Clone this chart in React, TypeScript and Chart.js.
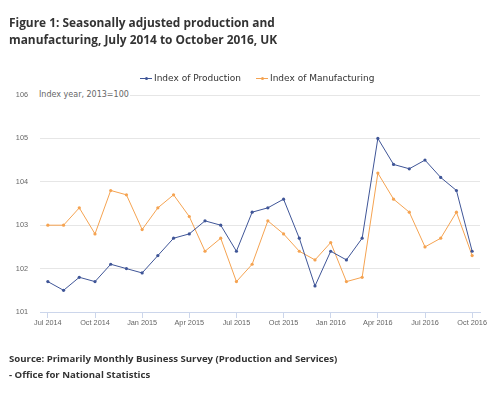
import React, { useEffect, useRef } from "react";
import { Chart, registerables } from "chart.js";

Chart.register(...registerables);

const months = [
  "Jul 2014", "Aug 2014", "Sep 2014", "Oct 2014", "Nov 2014", "Dec 2014",
  "Jan 2015", "Feb 2015", "Mar 2015", "Apr 2015", "May 2015", "Jun 2015",
  "Jul 2015", "Aug 2015", "Sep 2015", "Oct 2015", "Nov 2015", "Dec 2015",
  "Jan 2016", "Feb 2016", "Mar 2016", "Apr 2016", "May 2016", "Jun 2016",
  "Jul 2016", "Aug 2016", "Sep 2016", "Oct 2016",
];

const production = [
  101.7, 101.5, 101.8, 101.7, 102.1, 102.0,
  101.9, 102.3, 102.7, 102.8, 103.1, 103.0,
  102.4, 103.3, 103.4, 103.6, 102.7, 101.6,
  102.4, 102.2, 102.7, 105.0, 104.4, 104.3,
  104.5, 104.1, 103.8, 102.4,
];

const manufacturing = [
  103.0, 103.0, 103.4, 102.8, 103.8, 103.7,
  102.9, 103.4, 103.7, 103.2, 102.4, 102.7,
  101.7, 102.1, 103.1, 102.8, 102.4, 102.2,
  102.6, 101.7, 101.8, 104.2, 103.6, 103.3,
  102.5, 102.7, 103.3, 102.3,
];

const xTickLabels = [
  "Jul 2014", "Oct 2014", "Jan 2015", "Apr 2015", "Jul 2015",
  "Oct 2015", "Jan 2016", "Apr 2016", "Jul 2016", "Oct 2016",
];

const yMin = 101;
const yMax = 106;

const seriesNames = ["Index of Production", "Index of Manufacturing"];
const blue = "#3f5597";
const orange = "#f5a351";

export default function App() {
  const ref = useRef<HTMLCanvasElement | null>(null);

  useEffect(() => {
    if (!ref.current) return;
    const tickFont = { family: "'Liberation Sans', Arial, sans-serif", size: 7.3 };
    const chart = new Chart(ref.current, {
      type: "line",
      data: {
        labels: months,
        datasets: [
          {
            label: seriesNames[0],
            data: production,
            borderColor: blue,
            backgroundColor: blue,
            borderWidth: 1,
            pointRadius: 1.6,
            pointBorderWidth: 0,
            tension: 0,
          },
          {
            label: seriesNames[1],
            data: manufacturing,
            borderColor: orange,
            backgroundColor: orange,
            borderWidth: 1,
            pointRadius: 1.6,
            pointBorderWidth: 0,
            tension: 0,
          },
        ],
      },
      options: {
        responsive: false,
        animation: false,
        devicePixelRatio: 1,
        layout: { padding: { top: 95, right: 20, bottom: 40, left: 0 } },
        plugins: {
          legend: { display: false },
          title: { display: false },
          tooltip: { enabled: false },
        },
        scales: {
          x: {
            type: "category",
            offset: true,
            afterFit: (s: any) => {
              s.height = 41;
              s.paddingLeft = 0;
              s.paddingRight = 0;
            },
            border: { display: true, color: "#ccd6eb", width: 1 },
            grid: {
              display: true,
              drawOnChartArea: false,
              drawTicks: true,
              tickLength: 6,
              offset: false,
              color: (ctx: any) =>
                ctx.tick && xTickLabels.includes(months[ctx.index]) ? "#ccd6eb" : "rgba(0,0,0,0)",
            },
            ticks: {
              autoSkip: false,
              maxRotation: 0,
              minRotation: 0,
              padding: 1,
              color: "#666666",
              font: tickFont,
              callback: (_v: any, i: number) =>
                xTickLabels.includes(months[i]) ? months[i] : "",
            },
          },
          y: {
            min: yMin,
            max: yMax,
            afterFit: (s: any) => {
              s.width = 40;
              s.paddingTop = 0;
              s.paddingBottom = 0;
            },
            border: { display: false },
            grid: { color: "#e6e6e6", drawTicks: false, lineWidth: 1 },
            ticks: {
              stepSize: 1,
              padding: 12,
              color: "#666666",
              font: tickFont,
            },
          },
        },
      },
    });
    return () => chart.destroy();
  }, []);

  const legendItem = (color: string, name: string, left: number) => (
    <div
      style={{
        position: "absolute",
        left,
        top: 72,
        height: 12,
        display: "flex",
        alignItems: "center",
        whiteSpace: "nowrap",
      }}
    >
      <span style={{ position: "relative", width: 12, height: 12, display: "inline-block", marginRight: 2 }}>
        <span style={{ position: "absolute", left: 0, top: 6, width: 12, height: 1, background: color }} />
        <span
          style={{
            position: "absolute",
            left: 4.5,
            top: 5,
            width: 3,
            height: 3,
            borderRadius: "50%",
            background: color,
          }}
        />
      </span>
      <span
        style={{
          fontFamily: "'DejaVu Sans', Verdana, sans-serif",
          fontSize: 9,
          lineHeight: "12px",
          color: "#333333",
        }}
      >
        {name}
      </span>
    </div>
  );

  return (
    <div style={{ position: "absolute", left: 0, top: 0, width: 500, height: 393, background: "#fff", overflow: "hidden" }}>
      <canvas ref={ref} width={500} height={393} style={{ position: "absolute", left: 0, top: 0, width: 500, height: 393 }} />
      <div
        style={{
          position: "absolute",
          left: 9,
          top: 14,
          fontFamily: "'Open Sans', sans-serif",
          fontWeight: 700,
          fontSize: 11.9,
          lineHeight: "17px",
          color: "#333333",
          whiteSpace: "nowrap",
        }}
      >
        <div>Figure 1: Seasonally adjusted production and</div>
        <div>manufacturing, July 2014 to October 2016, UK</div>
      </div>
      {legendItem(blue, seriesNames[0], 140)}
      {legendItem(orange, seriesNames[1], 256)}
      <div
        style={{
          position: "absolute",
          left: 39,
          top: 90,
          fontFamily: "'DejaVu Sans', Verdana, sans-serif",
          fontSize: 8,
          lineHeight: "10px",
          color: "#666666",
          background: "#fff",
          paddingRight: 1,
          whiteSpace: "nowrap",
        }}
      >
        Index year, 2013=100
      </div>
      <div
        style={{
          position: "absolute",
          left: 9,
          top: 351,
          fontFamily: "'Open Sans', sans-serif",
          fontWeight: 700,
          fontSize: 9.6,
          lineHeight: "16px",
          color: "#333333",
          whiteSpace: "nowrap",
        }}
      >
        <div>Source: Primarily Monthly Business Survey (Production and Services)</div>
        <div>- Office for National Statistics</div>
      </div>
    </div>
  );
}
